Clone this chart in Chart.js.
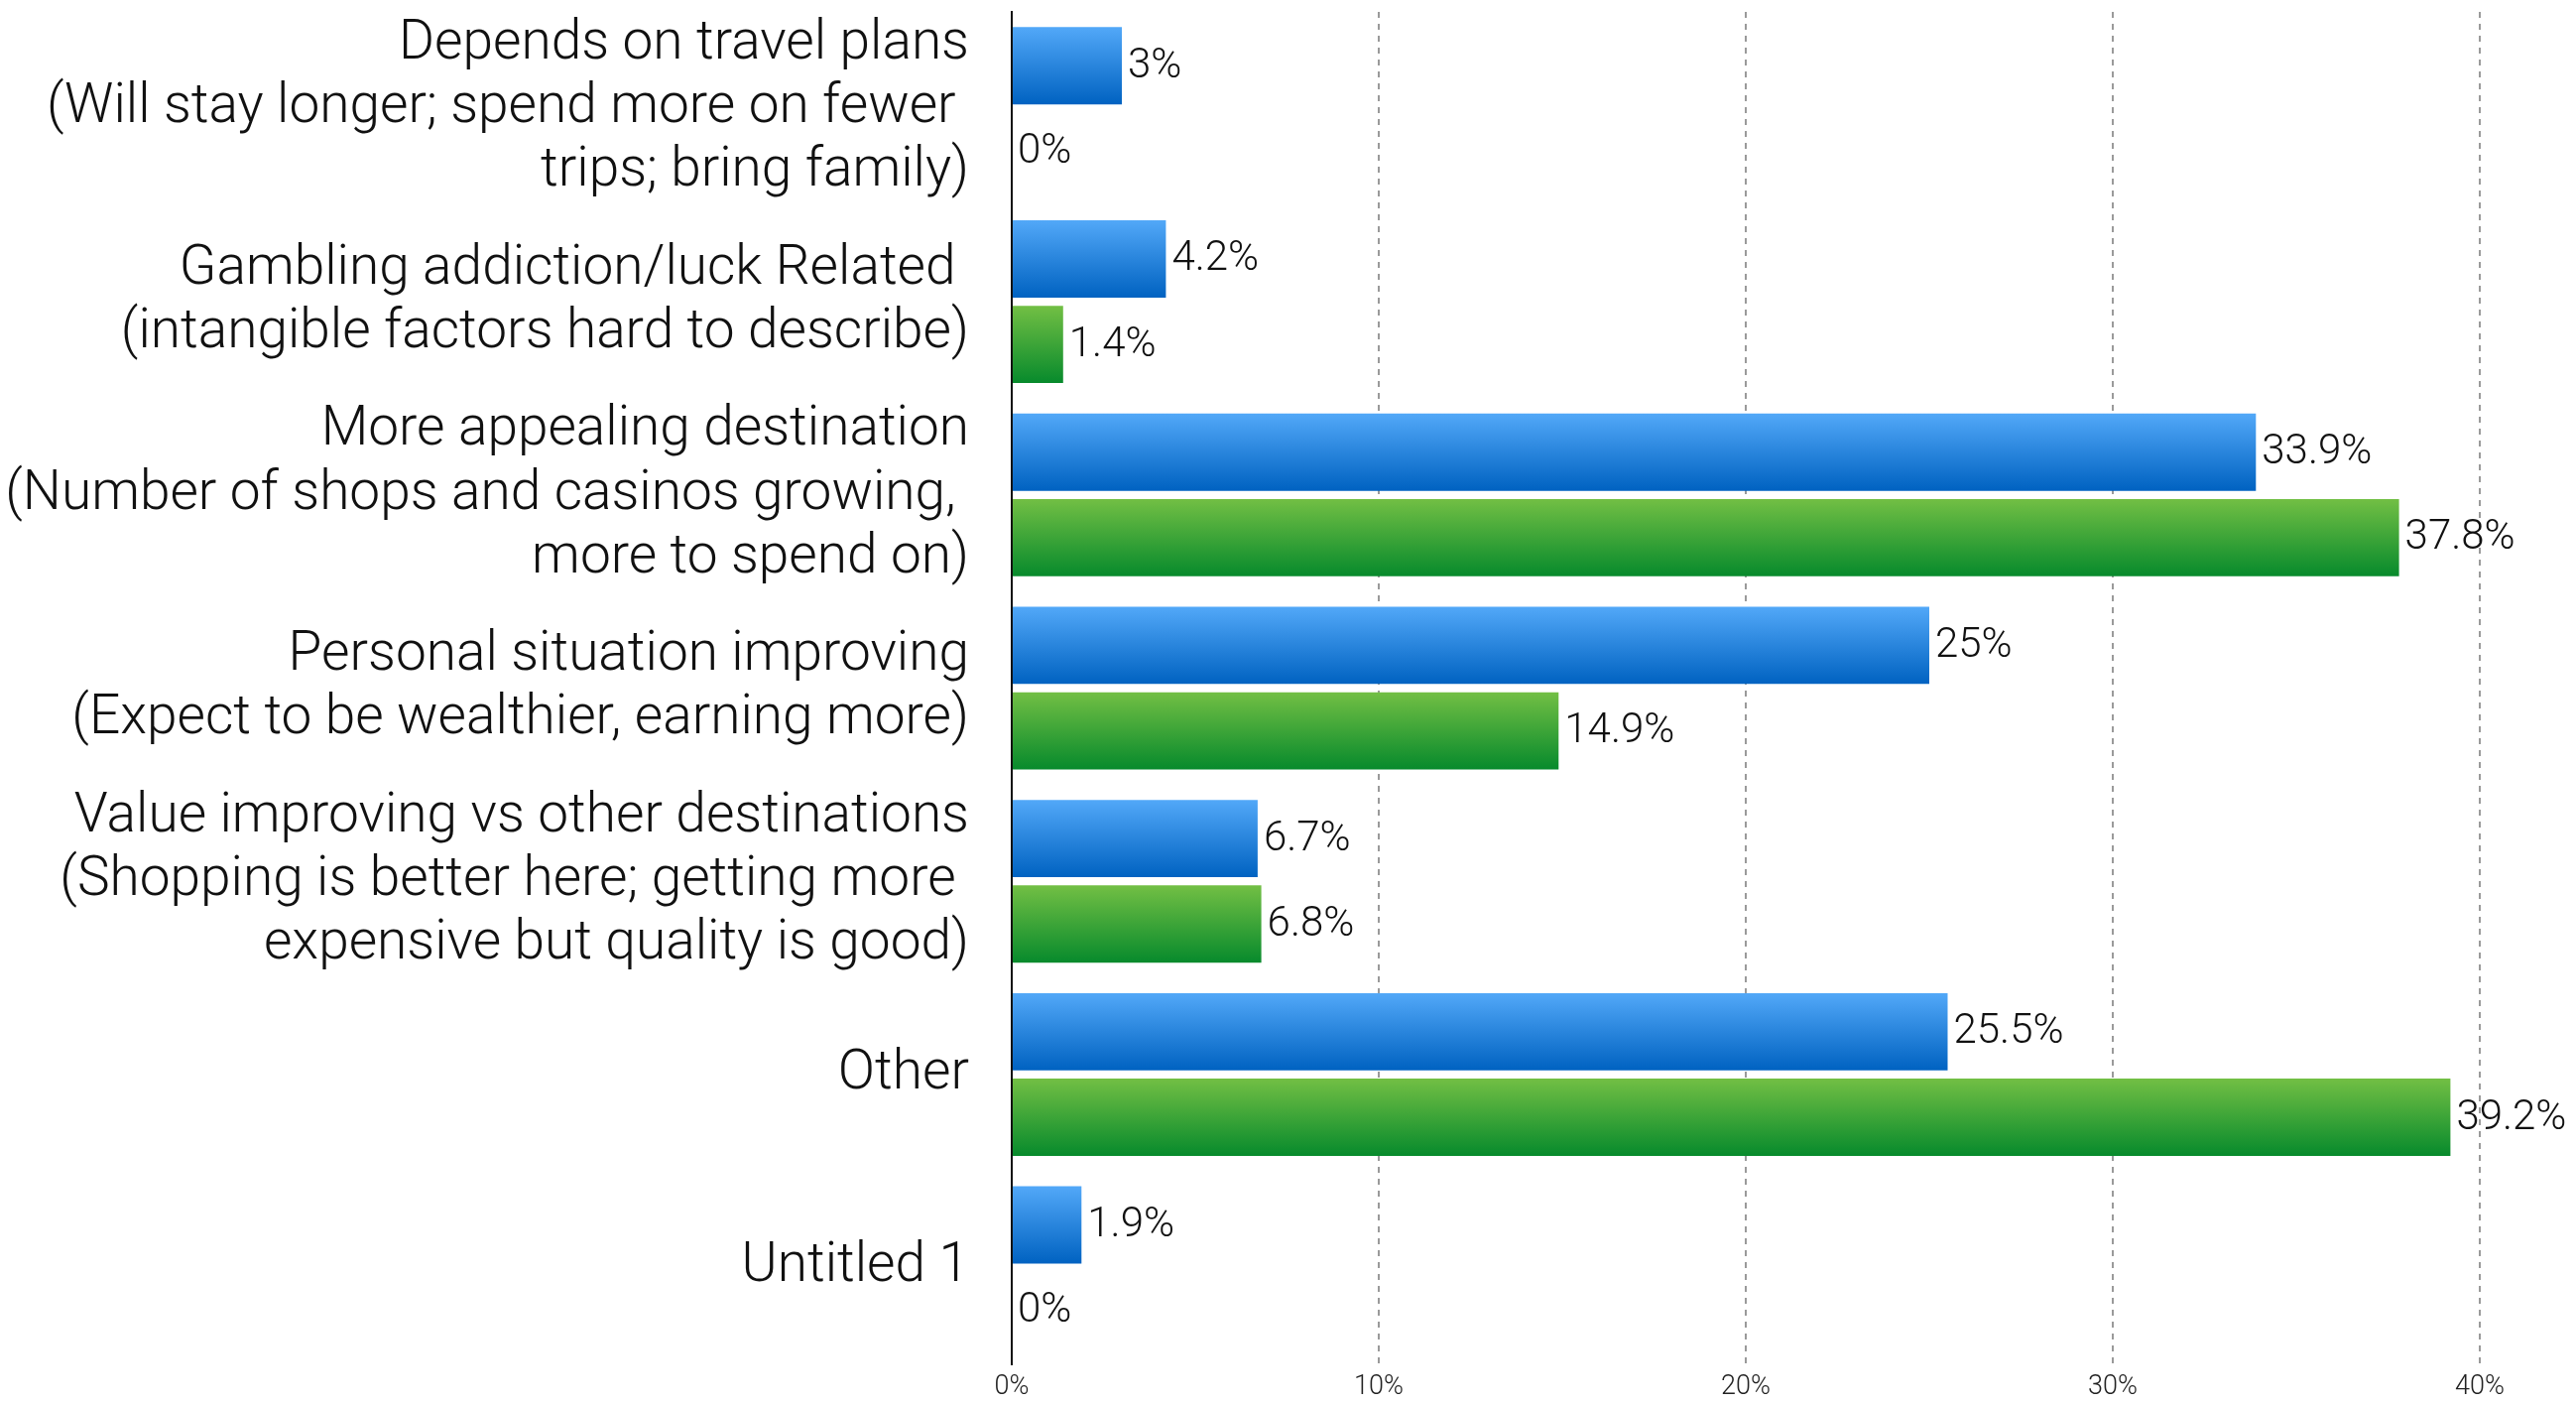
<!DOCTYPE html>
<html>
<head>
<meta charset="utf-8">
<script src="https://cdn.jsdelivr.net/npm/chart.js@4.4.1/dist/chart.umd.min.js"></script>
<style>
	body { margin: 0; background: #fff; }
	#wrap { width: 2597px; height: 1414px; }
</style>
</head>
<body>
<div id="wrap">
	<canvas id="myChart" width="2597" height="1414"></canvas>
</div>
<script>
// Reasons given, one entry per row (multi-line labels as arrays)
const categories = [
	["Depends on travel plans", "(Will stay longer; spend more on fewer ", "trips; bring family)"],
	["Gambling addiction/luck Related ", "(intangible factors hard to describe)"],
	["More appealing destination", "(Number of shops and casinos growing, ", "more to spend on)"],
	["Personal situation improving", "(Expect to be wealthier, earning more)"],
	["Value improving vs other destinations", "(Shopping is better here; getting more ", "expensive but quality is good)"],
	"Other",
	"Untitled 1",
];

// Percentages for the two series
const blueValues = [3, 4.2, 33.9, 25, 6.7, 25.5, 1.9];
const greenValues = [0, 1.4, 37.8, 14.9, 6.8, 39.2, 0];

const xTicks = [0, 10, 20, 30, 40];

const CAT_PCT = 0.885;
const BAR_PCT = 0.904;
const FONT = "'Roboto', 'Liberation Sans', sans-serif";

// vertical gradient for each bar, worked out from the category scale
const barGradient = (top, bottom) => (ctx) => {
	const chart = ctx.chart;
	const y = chart.scales.y;
	if (!y || ctx.type !== "data") return bottom;
	const center = y.getPixelForValue(ctx.dataIndex);
	const catW = y.getPixelForValue(1) - y.getPixelForValue(0);
	if (!Number.isFinite(center) || !Number.isFinite(catW)) return bottom;
	const slot = (catW * CAT_PCT) / 2;
	const size = slot * BAR_PCT;
	const start = center - slot + ctx.datasetIndex * slot + (slot - size) / 2;
	const g = chart.ctx.createLinearGradient(0, start, 0, start + size);
	g.addColorStop(0, top);
	g.addColorStop(1, bottom);
	return g;
};

// value text to the right of every bar
const valueLabels = {
	id: "valueLabels",
	afterDatasetsDraw(chart) {
		const ctx = chart.ctx;
		ctx.save();
		ctx.font = "300 42px " + FONT;
		ctx.fillStyle = "#111";
		ctx.textAlign = "left";
		ctx.textBaseline = "middle";
		chart.data.datasets.forEach((ds, i) => {
			chart.getDatasetMeta(i).data.forEach((bar, j) => {
				ctx.fillText(ds.data[j] + "%", bar.x + 6, bar.y + 1);
			});
		});
		ctx.restore();
	},
};

const ctx = document.getElementById("myChart").getContext("2d");
new Chart(ctx, {
	type: "bar",
	data: {
		labels: categories,
		datasets: [
			{
				label: "Series 1",
				data: blueValues,
				backgroundColor: barGradient("#52a8f8", "#0062c1"),
				categoryPercentage: CAT_PCT,
				barPercentage: BAR_PCT,
			},
			{
				label: "Series 2",
				data: greenValues,
				backgroundColor: barGradient("#72bf44", "#078a2c"),
				categoryPercentage: CAT_PCT,
				barPercentage: BAR_PCT,
			},
		],
	},
	options: {
		indexAxis: "y",
		responsive: false,
		animation: false,
		devicePixelRatio: 1,
		layout: { padding: { top: 12, right: 97, left: 0, bottom: 0 } },
		plugins: {
			legend: { display: false },
			tooltip: { enabled: false },
		},
		scales: {
			x: {
				min: 0,
				max: 40,
				afterBuildTicks: (scale) => {
					scale.ticks = xTicks.map((v) => ({ value: v }));
				},
				afterFit: (scale) => {
					scale.height = 39;
					scale.paddingLeft = 0;
					scale.paddingRight = 0;
				},
				// dashed vertical grid
				border: { display: false, dash: [6, 6] },
				grid: {
					drawTicks: false,
					lineWidth: 2,
					color: (c) => (c.tick && c.tick.value === 0 ? "rgba(0,0,0,0)" : "#9a9a9a"),
				},
				ticks: {
					padding: 7,
					color: "#222",
					font: { family: FONT, size: 27, weight: "300" },
					callback: (v) => v + "%",
				},
			},
			y: {
				afterFit: (scale) => {
					scale.width = 1020;
					scale.paddingTop = 0;
					scale.paddingBottom = 0;
				},
				border: { display: true, color: "#111", width: 2 },
				grid: { display: false, drawTicks: false },
				ticks: {
					autoSkip: false,
					padding: 43,
					color: "#111",
					font: { family: FONT, size: 55, weight: "300", lineHeight: 1.17 },
				},
			},
		},
	},
	plugins: [valueLabels],
});
</script>
</body>
</html>
